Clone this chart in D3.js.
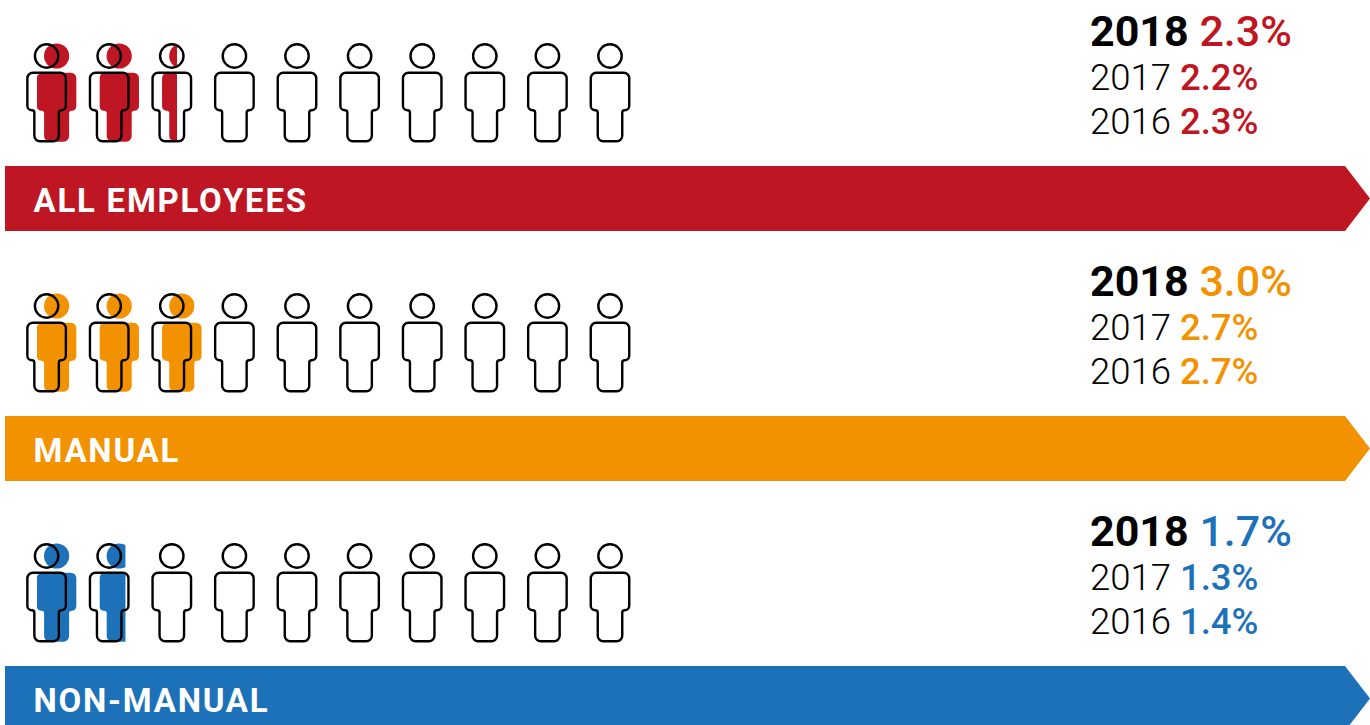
<!DOCTYPE html>
<html>
<head>
<meta charset="utf-8">
<script src="https://cdn.jsdelivr.net/npm/d3@7"></script>
<style>
  html, body { margin: 0; padding: 0; background: #fff; overflow: hidden; }
  svg { display: block; font-family: Roboto, sans-serif; }
</style>
</head>
<body>
<svg id="chart" width="1370" height="725"></svg>
<script>
// Absence rates by employee group, one row of ten figures per group
const categories = ["ALL EMPLOYEES", "MANUAL", "NON-MANUAL"];
const values2018 = [2.3, 3.0, 1.7];
const values2017 = [2.2, 2.7, 1.3];
const values2016 = [2.3, 2.7, 1.4];
const years = ["2018", "2017", "2016"];
const colours = ["#BE1622", "#F39200", "#1D71B8"];
const figureSlots = d3.range(10);

const svg = d3.select("#chart");

const rowY = d3.scalePoint().domain(categories).range([0, 500]);
const slotX = d3.scalePoint().domain(figureSlots).range([46.6, 610]);

// Share of a figure covered by a fractional value, in px across its width;
// the arms take up little area, so the scale is steeper at both ends.
const coverage = d3.scaleLinear().domain([0, 0.3, 0.7, 1]).range([0, 15, 26, 41]);

// Figure body centred on x = 0, with the top of the shoulders at y = 0.
// r rounds the shoulders and feet, h the hands, q the armpit corners.
function bodyPath(w, legW, armH, len, r, h, q) {
  const a = w / 2, l = legW / 2, p = d3.path();
  p.moveTo(-a + r, 0);
  p.lineTo(a - r, 0);
  p.arcTo(a, 0, a, r, r);
  p.lineTo(a, armH - h);
  p.arcTo(a, armH, a - h, armH, h);
  p.lineTo(l + q, armH);
  p.arcTo(l, armH, l, armH + q, q);
  p.lineTo(l, len - r);
  p.arcTo(l, len, l - r, len, r);
  p.lineTo(-l + r, len);
  p.arcTo(-l, len, -l, len - r, r);
  p.lineTo(-l, armH + q);
  p.arcTo(-l, armH, -l - q, armH, q);
  p.lineTo(-a + h, armH);
  p.arcTo(-a, armH, -a, armH - h, h);
  p.lineTo(-a, r);
  p.arcTo(-a, 0, -a + r, 0, r);
  p.closePath();
  return p.toString();
}

const solidBody = bodyPath(39.5, 25, 38, 69, 5.5, 4.5, 2.5);
const outlineBody = bodyPath(38.5, 24.5, 37.5, 68.5, 5.5, 4.5, 2.5);
const headTop = 56;
const bodyTop = 72.7;
const fillOffset = 10;
const bannerTop = 166;
const bannerH = 65;

const defs = svg.append("defs");

const rows = svg.selectAll("g.row")
  .data(categories.map((name, i) => ({ name, i, colour: colours[i] })))
  .join("g")
  .attr("class", "row")
  .attr("transform", d => `translate(0,${rowY(d.name)})`);

rows.each(function (row) {
  const g = d3.select(this);
  const value = values2018[row.i];

  // Coloured figures sit behind the outlines, shifted right
  figureSlots.forEach(slot => {
    const share = Math.max(0, Math.min(1, value - slot));
    if (share <= 0) return;
    const cx = slotX(slot) + fillOffset;
    const left = cx - 19.75;
    const clipId = `clip-${row.i}-${slot}`;
    defs.append("clipPath").attr("id", clipId)
      .append("rect")
      .attr("x", left).attr("y", 0)
      .attr("width", coverage(share)).attr("height", 725);
    const solid = g.append("g")
      .attr("clip-path", `url(#${clipId})`)
      .attr("fill", row.colour);
    solid.append("circle").attr("cx", cx).attr("cy", headTop).attr("r", 12.6);
    solid.append("path").attr("d", solidBody)
      .attr("transform", `translate(${cx},${bodyTop})`);
  });

  // Ten outlined figures
  const outlines = g.selectAll("g.outline").data(figureSlots).join("g")
    .attr("class", "outline")
    .attr("fill", "none")
    .attr("stroke", "#000")
    .attr("stroke-width", 2.4);
  outlines.append("circle")
    .attr("cx", d => slotX(d)).attr("cy", headTop).attr("r", 11.7);
  outlines.append("path")
    .attr("d", outlineBody)
    .attr("transform", d => `translate(${slotX(d)},${bodyTop})`);

  // Arrow banner
  const arrow = d3.path();
  arrow.moveTo(5, bannerTop);
  arrow.lineTo(1345, bannerTop);
  arrow.lineTo(1370, bannerTop + bannerH / 2);
  arrow.lineTo(1345, bannerTop + bannerH);
  arrow.lineTo(5, bannerTop + bannerH);
  arrow.closePath();
  g.append("path").attr("d", arrow.toString()).attr("fill", row.colour);

  g.append("text")
    .attr("x", 33.5).attr("y", 212)
    .attr("fill", "#fff")
    .attr("font-size", 33)
    .attr("font-weight", 700)
    .attr("letter-spacing", 1.75)
    .text(row.name);

  // Year-by-year rates
  const lines = [
    { year: years[0], v: values2018[row.i], y: 46, size: 43, yearWeight: 700, valueWeight: 500 },
    { year: years[1], v: values2017[row.i], y: 90, size: 36.5, yearWeight: 300, valueWeight: 500 },
    { year: years[2], v: values2016[row.i], y: 134, size: 36.5, yearWeight: 300, valueWeight: 500 }
  ];
  const labels = g.selectAll("text.rate").data(lines).join("text")
    .attr("class", "rate")
    .attr("x", 1090)
    .attr("y", d => d.y)
    .attr("font-size", d => d.size);
  labels.append("tspan")
    .attr("fill", "#000")
    .attr("font-weight", d => d.yearWeight)
    .text(d => d.year + " ");
  labels.append("tspan")
    .attr("fill", row.colour)
    .attr("font-weight", d => d.valueWeight)
    .text(d => d3.format(".1f")(d.v) + "%");
});
</script>
</body>
</html>
